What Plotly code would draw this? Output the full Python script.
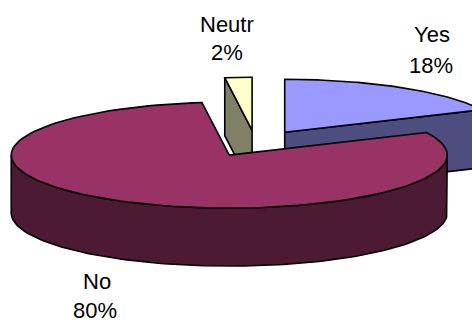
import numpy as np
import plotly.graph_objects as go

# ---- data ----
labels = ["Yes", "No", "Neutr"]
values = [18, 80, 2]
top_colors = ["#9999FF", "#993366", "#FFFFCC"]
side_colors = ["#4D4D80", "#4D1A33", "#808066"]

# ---- geometry / styling (pixel space) ----
CX, CY = 255.5, 143.5   # pie centre before explosion
A, B = 218.0, 53.0      # ellipse semi-axes
H = 58.0                # thickness
EXPLODE = 0.25
LINE = dict(color="black", width=1.6)
# label positions (name line, percent line)
label_pos = {"Yes": ((432, 34), (431, 65)),
             "No": ((97, 281), (95, 310)),
             "Neutr": ((227, 24), (227, 52))}

total = float(sum(values))
fig = go.Figure()


def pt(cx, cy, t, dz=0.0):
    r = np.radians(t)
    return cx + A * np.cos(r), cy - B * np.sin(r) + dz


def arc(cx, cy, t0, t1, dz=0.0, n=120):
    ts = np.linspace(t0, t1, n)
    r = np.radians(ts)
    return list(cx + A * np.cos(r)), list(cy - B * np.sin(r) + dz)


def poly(xs, ys, color):
    fig.add_trace(go.Scatter(x=xs + [xs[0]], y=ys + [ys[0]], mode="lines",
                             fill="toself", fillcolor=color, line=LINE,
                             hoverinfo="skip", showlegend=False))


slices = []
cum = 0.0
for lab, v, tc, sc in zip(labels, values, top_colors, side_colors):
    th1 = 90 - 360 * cum / total          # CCW end
    th2 = th1 - 360 * v / total           # CW end
    cum += v
    mid = np.radians((th1 + th2) / 2)
    cx = CX + EXPLODE * A * np.cos(mid)
    cy = CY - EXPLODE * B * np.sin(mid)
    slices.append((lab, v, tc, sc, th1, th2, cx, cy))

# draw back-to-front
slices.sort(key=lambda s: s[7])

for lab, v, tc, sc, th1, th2, cx, cy in slices:
    # radial faces
    for th, nrm in ((th1, th1 + 90), (th2, th2 - 90)):
        if np.sin(np.radians(nrm)) < -1e-6:
            ex, ey = pt(cx, cy, th)
            poly([cx, ex, ex, cx], [cy, ey, ey + H, cy + H], sc)
    # outer side (front half only)
    for k in range(-2, 2):
        lo = max(th2, 180 + 360 * k)
        hi = min(th1, 360 + 360 * k)
        if hi > lo:
            tx, ty = arc(cx, cy, lo, hi)
            bx, by = arc(cx, cy, hi, lo, dz=H)
            poly(tx + bx, ty + by, sc)
    # top face
    ax_, ay_ = arc(cx, cy, th2, th1)
    poly([cx] + ax_, [cy] + ay_, tc)

for lab, v in zip(labels, values):
    (x1, y1), (x2, y2) = label_pos[lab]
    for txt, x, y in ((lab, x1, y1), (f"{v}%", x2, y2)):
        fig.add_annotation(x=x, y=y, text=txt, showarrow=False,
                           xanchor="center", yanchor="middle",
                           font=dict(family="Liberation Sans, Arial, sans-serif",
                                     size=22, color="black"))

fig.update_layout(width=472, height=322, margin=dict(l=0, r=0, t=0, b=0),
                  paper_bgcolor="white", plot_bgcolor="white",
                  xaxis=dict(range=[0, 472], visible=False, fixedrange=True),
                  yaxis=dict(range=[322, 0], visible=False, fixedrange=True),
                  showlegend=False)

fig.write_html("out.html", config={"displayModeBar": False})
